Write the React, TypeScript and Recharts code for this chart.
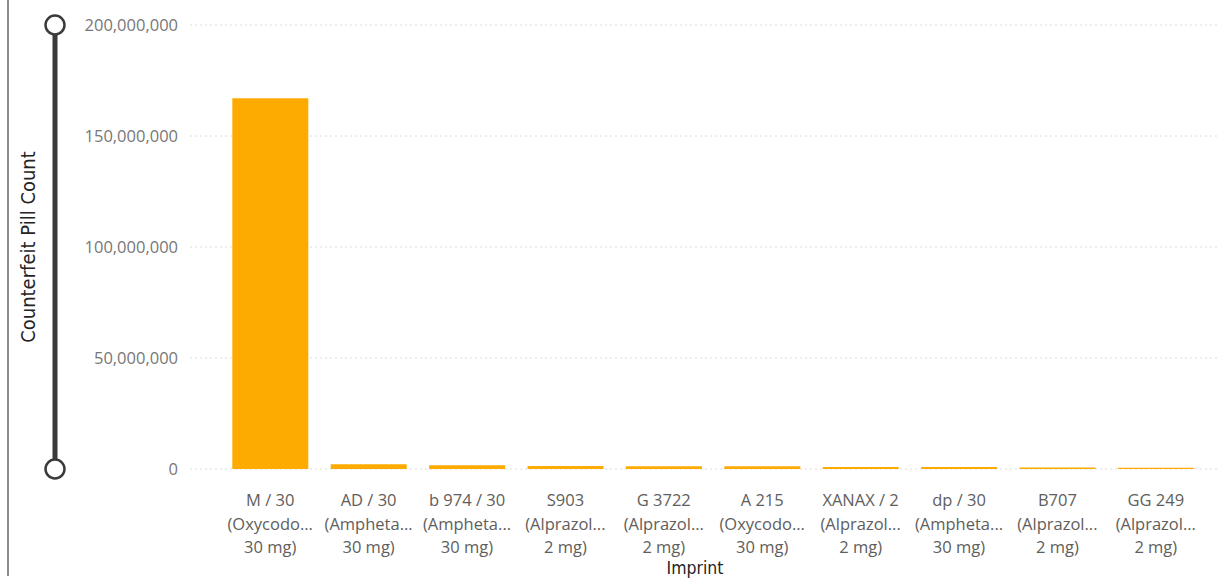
import { BarChart, Bar, XAxis, YAxis, CartesianGrid } from 'recharts';

const imprints = ['M / 30', 'AD / 30', 'b 974 / 30', 'S903', 'G 3722', 'A 215', 'XANAX / 2', 'dp / 30', 'B707', 'GG 249'];
const drugs = [
  '(Oxycodo...',
  '(Ampheta...',
  '(Ampheta...',
  '(Alprazol...',
  '(Alprazol...',
  '(Oxycodo...',
  '(Alprazol...',
  '(Ampheta...',
  '(Alprazol...',
  '(Alprazol...',
];
const doses = ['30 mg)', '30 mg)', '30 mg)', '2 mg)', '2 mg)', '30 mg)', '2 mg)', '30 mg)', '2 mg)', '2 mg)'];
const pillCounts = [167000000, 2100000, 1700000, 1300000, 1250000, 1200000, 950000, 850000, 700000, 600000];
const yTicks = [0, 50000000, 100000000, 150000000, 200000000];

const data = imprints.map((imprint, i) => ({
  imprint,
  drug: drugs[i],
  dose: doses[i],
  count: pillCounts[i],
}));

const W = 1223;
const H = 580;
const PLOT_TOP = 25;
const PLOT_BOTTOM = 469;
const PLOT_LEFT = 190;
const PLOT_RIGHT = 1220;

const tickFont = "'Segoe UI', 'Open Sans', sans-serif";
const titleFont = "'DejaVu Sans Condensed', 'DejaVu Sans', sans-serif";

function ImprintTick(props: any) {
  const { x, y, payload } = props;
  const row = data.find((d) => d.imprint === payload.value);
  if (!row) return null;
  return (
    <text x={x} y={y} textAnchor="middle" fill="#605E5C" fontSize={16.5} fontFamily={tickFont}>
      <tspan x={x} dy={37}>{row.imprint}</tspan>
      <tspan x={x} dy={23.5}>{row.drug}</tspan>
      <tspan x={x} dy={23.5}>{row.dose}</tspan>
    </text>
  );
}

export default function App() {
  return (
    <div style={{ position: 'absolute', top: 0, left: 0, width: W, height: H, background: '#fff', overflow: 'hidden' }}>
      <BarChart
        width={W}
        height={H}
        data={data}
        margin={{ top: PLOT_TOP, right: W - PLOT_RIGHT, bottom: 11, left: 0 }}
        barCategoryGap="11.5%"
      >
        <CartesianGrid vertical={false} stroke="#dcdcdc" strokeDasharray="2 3" />
        <XAxis
          dataKey="imprint"
          interval={0}
          height={H - PLOT_BOTTOM - 11}
          axisLine={false}
          tickLine={false}
          tickSize={0}
          tickMargin={0}
          padding={{ left: 31, right: 15 }}
          tick={<ImprintTick />}
        />
        <YAxis
          width={PLOT_LEFT}
          domain={[0, 200000000]}
          ticks={yTicks}
          axisLine={false}
          tickLine={false}
          tickSize={0}
          tickMargin={12}
          tick={{ fill: '#777', fontSize: 16.5, fontFamily: tickFont }}
          tickFormatter={(v: number) => v.toLocaleString('en-US')}
        />
        <Bar dataKey="count" fill="#FDAB00" isAnimationActive={false} />
      </BarChart>
      <svg width={W} height={H} style={{ position: 'absolute', top: 0, left: 0, pointerEvents: 'none' }}>
        <text x={15} y={-4} fontSize={22} fontWeight="bold" fill="#252423" fontFamily={titleFont}>
          Counterfeit Pill Count by Imprint
        </text>
        <line x1={8} y1={0} x2={8} y2={576} stroke="#666" strokeWidth={1.5} />
        <line x1={55} y1={PLOT_TOP} x2={55} y2={PLOT_BOTTOM} stroke="#3a3a3a" strokeWidth={5} />
        <circle cx={55} cy={PLOT_TOP} r={9.5} fill="#fff" stroke="#3a3a3a" strokeWidth={2.5} />
        <circle cx={55} cy={PLOT_BOTTOM} r={9.5} fill="#fff" stroke="#3a3a3a" strokeWidth={2.5} />
        <text
          x={28}
          y={247}
          transform="rotate(-90 28 247)"
          textAnchor="middle"
          dominantBaseline="central"
          fontSize={20}
          fontWeight={500}
          fill="#252423"
          fontFamily={titleFont}
        >
          Counterfeit Pill Count
        </text>
        <text x={695} y={574} textAnchor="middle" fontSize={17.5} fill="#252423" fontFamily={titleFont}>
          Imprint
        </text>
      </svg>
    </div>
  );
}
